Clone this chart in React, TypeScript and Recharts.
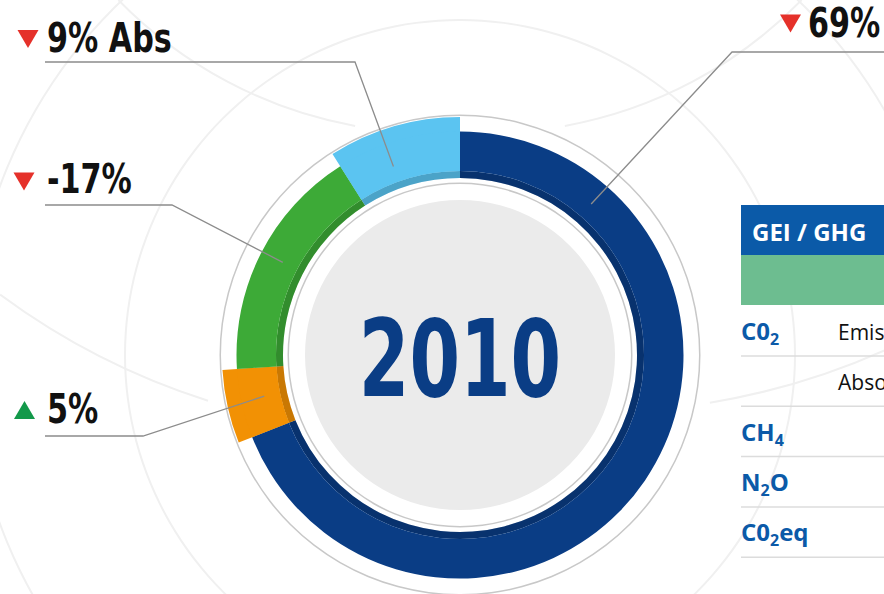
import React from 'react';
import { PieChart, Pie, Cell } from 'recharts';

// ---------- data ----------
const segmentNames = ['Emisiones CO2', 'N2O', 'CH4', 'Absorciones CO2'];
const segmentShares = [69, 5, 17, 9];
const segmentLabels = ['69%', '5%', '-17%', '9% Abs'];
const segmentTrends = ['down', 'up', 'down', 'down'];
const centerYear = '2010';

const tableHeader = 'GEI / GHG';
const gasNames = ['C0', '', 'CH', 'N', 'C0'];
const gasSubscripts = ['2', '', '4', '2', '2'];
const gasSuffixes = ['', '', '', 'O', 'eq'];
const gasDescriptions = ['Emisiones', 'Absorciones', '', '', ''];

// ---------- styles / layout ----------
const W = 884;
const H = 594;
const CX = 460;
const CY = 355;
const RAD = Math.PI / 180;
const ANCHOR_R = 200;

const segmentColors = ['#0a3d85', '#f29104', '#3daa37', '#5bc4f1'];
const extendedSegment = [false, true, false, true];

const labelLayout = [
  { textX: 808, baseline: 37, triX: 790.5, triY: 23.5, lineX: 900, lineY: 52, elbowX: 732, anchorT: 0.165 },
  { textX: 47, baseline: 423, triX: 24.5, triY: 410, lineX: 45, lineY: 436, elbowX: 143, anchorT: 0.54 },
  { textX: 47, baseline: 193, triX: 24, triY: 181.5, lineX: 45, lineY: 205, elbowX: 172, anchorT: 0.51 },
  { textX: 47, baseline: 52, triX: 28, triY: 39, lineX: 45, lineY: 62, elbowX: 355, anchorT: 0.4 },
];
const LABEL_SCALE_X = 0.84;
const CENTER_SCALE_X = 0.755;

const decoArcs = [
  { cx: 460, cy: 355, r: 335, start: 0, end: 360 },
  { cx: 460, cy: 355, r: 490, start: 0, end: 360 },
  { cx: 434, cy: -308, r: 441, start: -135.7, end: -100.3 },
  { cx: 486, cy: -308, r: 441, start: -79.7, end: -44.3 },
  { cx: 423, cy: -277, r: 711, start: -126.5, end: -107.6 },
  { cx: 595, cy: -299, r: 711, start: -80.7, end: -64 },
];

const LABEL_FONT = "'DejaVu Sans Condensed', 'DejaVu Sans', sans-serif";
const TABLE_FONT = "'Open Sans', 'Noto Sans', sans-serif";

const renderSegmentLabel = (props: any) => {
  const { cx, cy, startAngle, endAngle, midAngle, index } = props;
  const lay = labelLayout[index];
  const a =
    typeof startAngle === 'number' && typeof endAngle === 'number'
      ? startAngle + (endAngle - startAngle) * lay.anchorT
      : midAngle;
  const ax = cx + ANCHOR_R * Math.cos(-a * RAD);
  const ay = cy + ANCHOR_R * Math.sin(-a * RAD);
  const up = segmentTrends[index] === 'up';
  const tx = lay.triX;
  const ty = lay.triY;
  const tri = up
    ? `${tx - 10.5},${ty + 9} ${tx + 10.5},${ty + 9} ${tx},${ty - 9}`
    : `${tx - 10.5},${ty - 9} ${tx + 10.5},${ty - 9} ${tx},${ty + 9}`;
  return (
    <g key={`seg-label-${index}`}>
      <polyline
        points={`${lay.lineX},${lay.lineY} ${lay.elbowX},${lay.lineY} ${ax},${ay}`}
        fill="none"
        stroke="#8c8c8c"
        strokeWidth={1.3}
      />
      <polygon points={tri} fill={up ? '#13994a' : '#e5312a'} />
      <text
        transform={`translate(${lay.textX},${lay.baseline}) scale(${LABEL_SCALE_X},1)`}
        x={0}
        y={0}
        fontFamily={LABEL_FONT}
        fontWeight={700}
        fontSize={40}
        fill="#111"
      >
        {segmentLabels[index]}
      </text>
    </g>
  );
};

const renderCenterLabel = (props: any) => (
  <text
    key="center-year"
    transform={`translate(${props.cx},${props.cy + 41}) scale(${CENTER_SCALE_X},1)`}
    x={0}
    y={0}
    textAnchor="middle"
    fontFamily={LABEL_FONT}
    fontWeight={700}
    fontSize={107}
    fill="#0a3d85"
  >
    {centerYear}
  </text>
);

export default function App() {
  const data = segmentNames.map((name, i) => ({ name, value: segmentShares[i] }));
  const one = [{ name: 'ring', value: 1 }];
  const rowBaseline0 = 340;
  const rowStep = 50.3;

  return (
    <div style={{ position: 'absolute', left: 0, top: 0, width: W, height: H, background: '#fff', overflow: 'hidden' }}>
      <PieChart width={W} height={H} margin={{ top: 0, right: 0, bottom: 0, left: 0 }}>
        {decoArcs.map((d, i) => (
          <Pie
            key={`deco-${i}`}
            data={one}
            dataKey="value"
            cx={d.cx}
            cy={d.cy}
            innerRadius={d.r - 1}
            outerRadius={d.r + 1}
            startAngle={d.start}
            endAngle={d.end}
            fill="#f0f0f0"
            stroke="none"
            isAnimationActive={false}
          />
        ))}
        {/* outer thin grey circle */}
        <Pie data={one} dataKey="value" cx={CX} cy={CY} innerRadius={239} outerRadius={240.5}
          startAngle={0} endAngle={360} fill="#c8c8c8" stroke="none" isAnimationActive={false} />
        {/* grey disk with year */}
        <Pie data={one} dataKey="value" cx={CX} cy={CY} innerRadius={0} outerRadius={155}
          startAngle={0} endAngle={360} fill="#ebebeb" stroke="none" isAnimationActive={false}
          label={renderCenterLabel} labelLine={false} />
        {/* inner thin grey circle */}
        <Pie data={one} dataKey="value" cx={CX} cy={CY} innerRadius={171} outerRadius={172.5}
          startAngle={0} endAngle={360} fill="#c8c8c8" stroke="none" isAnimationActive={false} />
        {/* extended segments */}
        <Pie data={data} dataKey="value" cx={CX} cy={CY} innerRadius={184} outerRadius={238}
          startAngle={90} endAngle={-270} stroke="none" isAnimationActive={false}>
          {data.map((d, i) => (
            <Cell key={`ext-${i}`} fill={extendedSegment[i] ? segmentColors[i] : 'none'} />
          ))}
        </Pie>
        {/* inner darker band */}
        <Pie data={data} dataKey="value" cx={CX} cy={CY} innerRadius={177} outerRadius={184}
          startAngle={90} endAngle={-270} stroke="none" isAnimationActive={false}>
          {data.map((d, i) => (
            <Cell key={`band-${i}`} fill={segmentColors[i]} />
          ))}
        </Pie>
        <Pie data={data} dataKey="value" cx={CX} cy={CY} innerRadius={177} outerRadius={184}
          startAngle={90} endAngle={-270} stroke="none" isAnimationActive={false}>
          {data.map((d, i) => (
            <Cell key={`shade-${i}`} fill="#000" fillOpacity={0.17} />
          ))}
        </Pie>
        {/* main ring */}
        <Pie data={data} dataKey="value" cx={CX} cy={CY} innerRadius={184} outerRadius={223.5}
          startAngle={90} endAngle={-270} stroke="none" isAnimationActive={false}
          label={renderSegmentLabel} labelLine={false}>
          {data.map((d, i) => (
            <Cell key={`main-${i}`} fill={segmentColors[i]} />
          ))}
        </Pie>
      </PieChart>

      {/* table overlay */}
      <svg width={W} height={H} style={{ position: 'absolute', left: 0, top: 0, pointerEvents: 'none' }}>
        <rect x={741} y={205} width={160} height={50} fill="#0b5aa8" />
        <rect x={741} y={255} width={160} height={50} fill="#6dbd90" />
        <text x={752} y={241} fontFamily={TABLE_FONT} fontWeight={700} fontSize={24} fill="#fff">
          {tableHeader}
        </text>
        {gasNames.map((g, i) => {
          const by = rowBaseline0 + rowStep * i;
          return (
            <g key={`row-${i}`}>
              {g && (
                <text x={741} y={by} fontFamily={TABLE_FONT} fontWeight={700} fontSize={24} fill="#0b5aa8">
                  {g}
                  {gasSubscripts[i] && (
                    <tspan fontSize={16} dy={5}>{gasSubscripts[i]}</tspan>
                  )}
                  {gasSuffixes[i] && (
                    <tspan fontSize={24} dy={-5}>{gasSuffixes[i]}</tspan>
                  )}
                </text>
              )}
              {gasDescriptions[i] && (
                <text x={838} y={by} fontFamily={TABLE_FONT} fontSize={21} fill="#111">
                  {gasDescriptions[i]}
                </text>
              )}
              <line x1={741} x2={900} y1={by + 16} y2={by + 16} stroke="#dcdcdc" strokeWidth={1.5} />
            </g>
          );
        })}
      </svg>
    </div>
  );
}
